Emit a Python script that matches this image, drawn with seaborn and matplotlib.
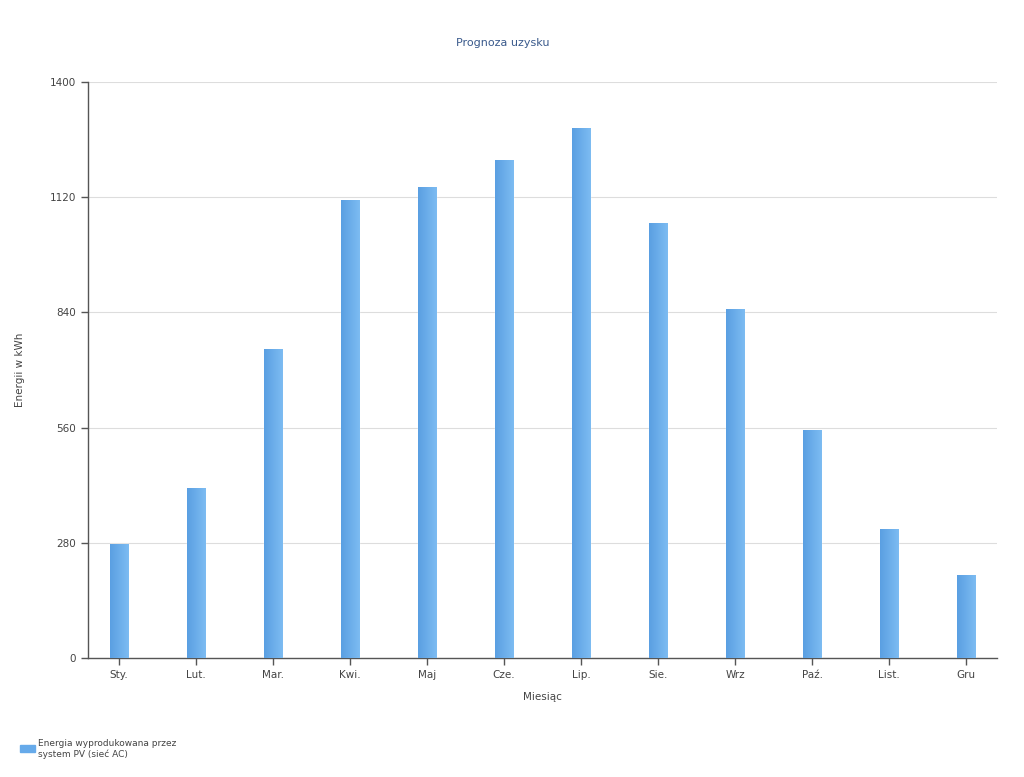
import numpy as np
import pandas as pd
import matplotlib
matplotlib.use("Agg")
import matplotlib.pyplot as plt
import seaborn as sns

# data
months = ["Sty.", "Lut.", "Mar.", "Kwi.", "Maj", "Cze.", "Lip.", "Sie.", "Wrz", "Paź.", "List.", "Gru"]
energy = [277, 413, 751, 1113, 1145, 1210, 1288, 1057, 848, 554, 314, 202]
yticks = [0, 280, 560, 840, 1120, 1400]
series_name = "Energia wyprodukowana przez\nsystem PV (sieć AC)"

df = pd.DataFrame({"Miesiąc": months, "Energia": energy})

sns.set_style("white")
plt.rcParams["font.family"] = ["DejaVu Sans"]
text_col = "#444444"

fig = plt.figure(figsize=(10.24, 7.77), dpi=100)
ax = fig.add_axes([88 / 1024, 1 - 658 / 777, (997 - 88) / 1024, (658 - 82) / 777])

sns.barplot(data=df, x="Miesiąc", y="Energia", color="#66aaea", width=0.235,
            saturation=1, ax=ax, zorder=3)

# horizontal gradient on each bar (darker left, lighter right)
grad = np.linspace(0, 1, 64).reshape(1, -1)
cmap = matplotlib.colors.LinearSegmentedColormap.from_list("bar", ["#5a9fe2", "#7dbcf2"])
for p in ax.patches:
    x0, y0 = p.get_x(), p.get_y()
    w, h = p.get_width(), p.get_height()
    im = ax.imshow(grad, extent=[x0, x0 + w, y0, y0 + h], aspect="auto",
                   cmap=cmap, zorder=4)
    im.set_clip_path(p)

ax.set_xlim(-0.4, 11.4)
ax.set_ylim(0, 1400)
ax.set_yticks(yticks)
ax.yaxis.grid(True, color="#dddddd", linewidth=0.8, zorder=0)
ax.set_axisbelow(True)

for s in ["top", "right"]:
    ax.spines[s].set_visible(False)
for s in ["left", "bottom"]:
    ax.spines[s].set_color("#555555")
    ax.spines[s].set_linewidth(1.0)

ax.tick_params(axis="both", direction="out", length=5, width=1, color="#555555",
               labelsize=7.5, labelcolor=text_col, bottom=True, left=True)
ax.set_xlabel("Miesiąc", fontsize=7.5, color=text_col, labelpad=9)
ax.set_ylabel("Energii w kWh", fontsize=7.5, color=text_col, labelpad=18)

fig.text(503 / 1024, 1 - 43 / 777, "Prognoza uzysku", ha="center", va="center",
         fontsize=8, color="#3a5a8c")

# legend bottom-left
fig.patches.append(matplotlib.patches.Rectangle((20 / 1024, 1 - 752 / 777), 15 / 1024, 7 / 777,
                                                transform=fig.transFigure, color="#66aaea"))
fig.text(38 / 1024, 1 - 749 / 777, series_name, ha="left", va="center",
         fontsize=6.5, color=text_col, linespacing=1.1)

fig.savefig("out.png", dpi=100)
